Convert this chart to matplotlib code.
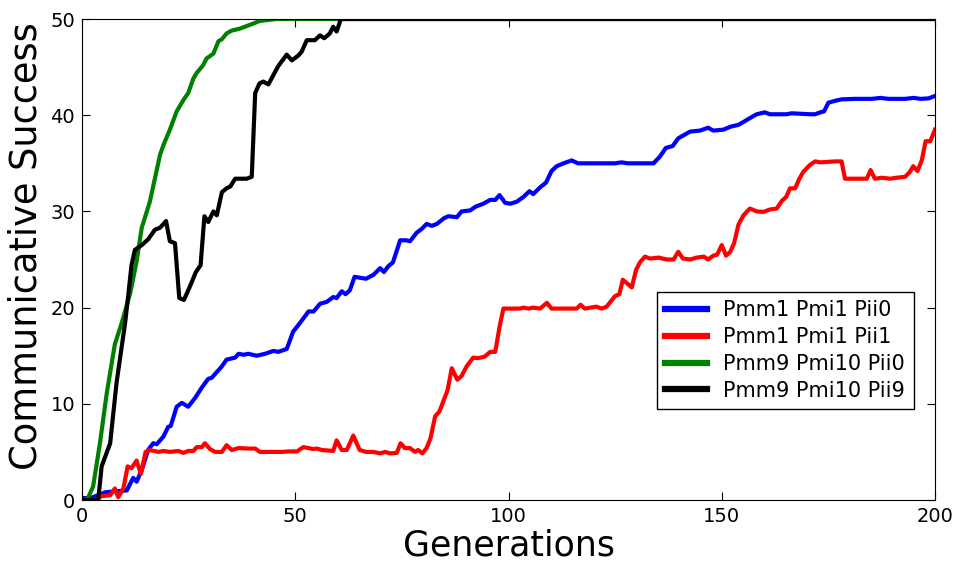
import matplotlib
matplotlib.use('Agg')
import matplotlib.pyplot as plt

# communicative success per generation, four parameter settings
labels = ['Pmm1 Pmi1 Pii0', 'Pmm1 Pmi1 Pii1', 'Pmm9 Pmi10 Pii0', 'Pmm9 Pmi10 Pii9']
colors = ['b', 'r', 'g', 'k']

blue_gen = [0, 2, 5.4, 7.7, 10.5, 12, 12.8, 14, 15.5, 16.7, 17.5, 19.1, 20.2, 20.8, 22.2, 23.4, 24.9,
            26.5, 28.1, 29.6, 30.4, 32.8, 33.9, 35.9, 36.7, 37.9, 39, 41, 42.9, 44.9, 46, 48, 49.5,
            51.1, 53.1, 54.3, 55.8, 57.4, 58.9, 59.7, 60.9, 61.8, 62.8, 63.9, 66.6, 68.3, 69.9, 70.8,
            71.8, 72.9, 74.6, 76, 76.9, 78.5, 79.7, 80.8, 82, 83.2, 84.9, 85.9, 87.9, 89, 91, 92.3,
            94.1, 95.7, 96.9, 97.9, 99.2, 100.4, 101.9, 103.5, 104.9, 105.8, 107.4, 108.8, 110.1,
            111.3, 112.9, 114.8, 116.3, 125, 126.5, 128, 134, 135.5, 136.9, 138.5, 139.8, 141.4,
            142.6, 144.9, 146.8, 148, 150.4, 152, 153.9, 155.1, 156.6, 158.2, 160.1, 161.3, 165.2,
            166.4, 170.7, 171.9, 173.1, 174, 175, 176.6, 178.1, 181.3, 185.2, 187.2, 189.1, 193,
            195, 196.6, 198.5, 200]
blue_val = [0.2, 0.2, 0.8, 0.9, 1.0, 2.3, 1.9, 3.1, 5.2, 5.9, 5.8, 6.6, 7.6, 7.7, 9.7, 10.1, 9.7,
            10.6, 11.7, 12.6, 12.7, 13.9, 14.6, 14.8, 15.2, 15.1, 15.2, 15.0, 15.2, 15.5, 15.4, 15.7,
            17.5, 18.4, 19.6, 19.6, 20.4, 20.6, 21.1, 21.0, 21.7, 21.4, 21.8, 23.2, 23.0, 23.4, 24.1,
            23.7, 24.3, 24.7, 27.0, 27.0, 26.9, 27.8, 28.2, 28.7, 28.5, 28.7, 29.3, 29.5, 29.4, 30.0,
            30.1, 30.5, 30.8, 31.2, 31.2, 31.7, 30.9, 30.8, 31.0, 31.5, 32.1, 31.8, 32.5, 33.0, 34.2,
            34.7, 35.0, 35.3, 35.0, 35.0, 35.1, 35.0, 35.0, 35.7, 36.6, 36.8, 37.6, 38.0, 38.3, 38.4,
            38.7, 38.4, 38.5, 38.8, 39.0, 39.3, 39.7, 40.1, 40.3, 40.1, 40.1, 40.2, 40.1, 40.1, 40.3,
            40.4, 41.3, 41.5, 41.65, 41.7, 41.7, 41.8, 41.7, 41.7, 41.8, 41.7, 41.75, 42.0]

red_gen = [0, 3, 4.6, 6.6, 7.7, 8.5, 9.7, 10.7, 11.6, 12.8, 13.8, 14.9, 15.9, 17.9, 19.1, 20.6,
           22.6, 23.8, 24.9, 26.1, 26.9, 28.1, 28.8, 30, 31.2, 32.8, 33.9, 35.1, 36.7, 39, 40.6,
           41.7, 46.9, 48.4, 50.4, 51.9, 53.1, 54.1, 55.1, 56.2, 58.9, 59.7, 60.9, 62.1, 63.6, 65.1,
           66.6, 68.3, 69.9, 71.1, 72.2, 73.8, 74.7, 75.7, 76.9, 78.1, 78.8, 79.8, 80.8, 81.7, 82.8,
           83.8, 85.7, 86.7, 88, 89, 90.2, 91.7, 92.9, 94.4, 95.7, 96.9, 97.9, 98.8, 102.7, 103.5,
           104.7, 105.8, 107.4, 109, 110.1, 116, 116.9, 117.9, 120.6, 121.8, 123, 125, 126, 126.8,
           128.9, 129.9, 130.8, 132, 133.2, 135.2, 137.1, 138.7, 139.8, 140.9, 142.6, 144.1, 145.8,
           146.8, 148, 148.9, 150, 151, 152, 152.9, 153.9, 155.1, 156.6, 158.2, 159.8, 161.3,
           162.9, 164.1, 165.1, 166, 167.2, 168.2, 169.1, 170.6, 171.9, 173.1, 176.6, 178.1, 178.9,
           184, 184.9, 185.9, 187.5, 189.5, 191, 193, 194.1, 194.9, 195.9, 196.9, 197.8, 198.9, 200]
red_val = [0, 0, 0.4, 0.5, 1.2, 0.3, 1.2, 3.5, 3.3, 4.1, 2.7, 5.0, 5.2, 5.0, 5.1, 5.0, 5.1, 4.9,
           5.1, 5.1, 5.5, 5.5, 5.9, 5.3, 5.0, 5.0, 5.7, 5.2, 5.4, 5.35, 5.35, 5.0, 5.0, 5.05, 5.05,
           5.5, 5.4, 5.3, 5.35, 5.2, 5.1, 6.2, 5.2, 5.2, 6.7, 5.2, 5.0, 5.0, 4.85, 5.0, 4.85, 4.9,
           5.9, 5.4, 5.4, 5.0, 5.2, 4.85, 5.4, 6.4, 8.7, 9.2, 11.4, 13.7, 12.5, 12.9, 13.9, 14.8,
           14.75, 14.9, 15.4, 15.4, 18.0, 19.9, 19.9, 20.0, 19.9, 20.0, 19.9, 20.5, 19.9, 19.9, 20.3,
           19.9, 20.1, 19.9, 20.1, 21.2, 21.4, 22.9, 22.1, 23.9, 24.7, 25.3, 25.1, 25.2, 25.0, 25.0,
           25.8, 25.1, 25.0, 25.2, 25.3, 25.0, 25.4, 25.5, 26.5, 25.4, 25.8, 26.7, 28.6, 29.6, 30.3,
           30.0, 29.95, 30.2, 30.3, 31.1, 31.5, 32.4, 32.4, 33.4, 34.1, 34.8, 35.2, 35.1, 35.2, 35.2,
           33.4, 33.4, 34.3, 33.4, 33.5, 33.4, 33.5, 33.6, 34.1, 34.7, 34.2, 35.3, 37.3, 37.3, 38.5]

green_gen = [0, 1, 1.5, 2.6, 4.2, 5.8, 7.7, 9.3, 11.3, 12.8, 14, 15.9, 18.3, 19.1, 20.6, 22.2, 23.8,
             24.9, 26.1, 26.9, 28.4, 29.2, 30.8, 32, 32.8, 33.9, 35.1, 37, 39.4, 41.7, 45.6, 200]
green_val = [0, 0, 0.3, 1.4, 5.9, 11.1, 16.2, 18.4, 21.5, 24.8, 28.3, 31, 35.9, 36.9, 38.5, 40.4,
             41.6, 42.3, 43.8, 44.4, 45.2, 45.9, 46.4, 47.7, 47.9, 48.5, 48.8, 49, 49.4, 49.8, 50, 50]

black_gen = [0, 3.8, 4.6, 6.6, 8.1, 10.1, 10.9, 11.6, 12.4, 14, 15.5, 17.1, 18.3, 19.7, 20.6, 21.8,
             22.8, 23.9, 25.3, 26.7, 27.8, 28.7, 29.6, 30.8, 31.6, 32.8, 33.9, 34.8, 35.9, 38.6,
             39.8, 40.6, 41.6, 42.5, 43.7, 44.9, 46, 48, 49.2, 50.7, 51.5, 52.7, 54.6, 55.8, 56.8,
             58.1, 58.9, 59.7, 60.7, 200]
black_val = [0, 0, 3.5, 5.9, 12.2, 18.4, 21.5, 24.4, 26, 26.5, 27.1, 28.1, 28.3, 29, 26.9, 26.7,
             21, 20.8, 22.2, 23.7, 24.4, 29.5, 28.9, 30, 29.6, 32, 32.4, 32.6, 33.4, 33.4, 33.6,
             42.3, 43.3, 43.5, 43.2, 44.2, 45.1, 46.3, 45.7, 46.2, 46.6, 47.8, 47.8, 48.3, 48,
             48.5, 49.2, 48.7, 50, 50]

series = [(blue_gen, blue_val), (red_gen, red_val), (green_gen, green_val), (black_gen, black_val)]

fig = plt.figure(figsize=(9.57, 5.61), dpi=100)
ax = fig.add_axes([0.0857, 0.1087, 0.8913, 0.8574])

for (gen, val), col, lab in zip(series, colors, labels):
    ax.plot(gen, val, color=col, linewidth=3, label=lab)

ax.set_xlim(0, 200)
ax.set_ylim(0, 50)
ax.set_xticks([0, 50, 100, 150, 200])
ax.set_yticks([0, 10, 20, 30, 40, 50])
ax.tick_params(direction='in', top=True, right=True, length=6, labelsize=14, pad=5)
ax.set_xlabel('Generations', fontsize=25, labelpad=2)
ax.set_ylabel('Communicative Success', fontsize=26.5)
ax.yaxis.set_label_coords(-0.044, 0.528)

leg = ax.legend(loc='lower right', bbox_to_anchor=(0.975, 0.189), borderaxespad=0,
                fontsize=15, fancybox=False, framealpha=1, handlelength=2.0,
                labelspacing=0.33, handletextpad=0.8)
leg.get_frame().set_edgecolor('black')
for h in leg.get_lines():
    h.set_linewidth(4.5)

fig.savefig('out.png', dpi=100)
